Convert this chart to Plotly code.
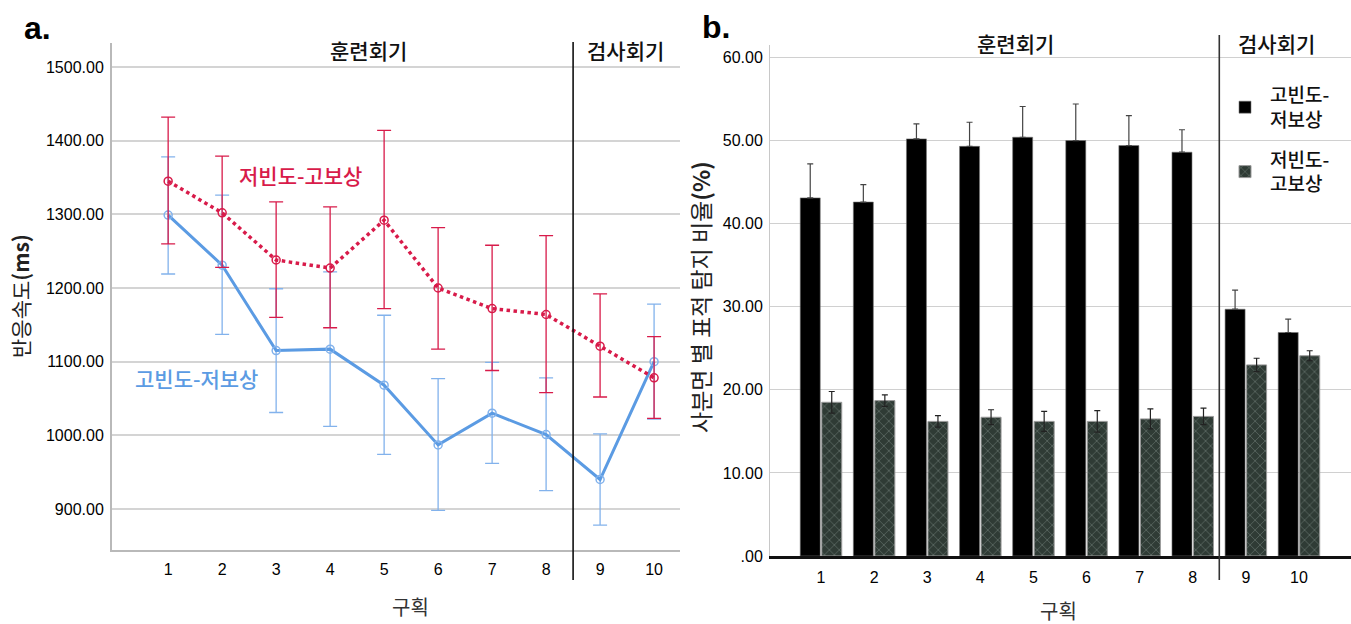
import plotly.graph_objects as go

# ---------------- data ----------------
blocks = list(range(1, 11))
block_labels = [str(b) for b in blocks]

# panel a : reaction time (ms)
rt_lfhr_mean = [1345, 1302, 1238, 1227, 1292, 1200, 1172, 1164, 1121, 1078]
rt_lfhr_upper = [1432, 1379, 1317, 1310, 1414, 1282, 1258, 1271, 1192, 1134]
rt_lfhr_lower = [1260, 1228, 1160, 1146, 1172, 1117, 1088, 1058, 1052, 1023]
rt_hflr_mean = [1299, 1231, 1115, 1117, 1068, 987, 1030, 1001, 940, 1100]
rt_hflr_upper = [1378, 1326, 1199, 1222, 1163, 1077, 1099, 1078, 1002, 1178]
rt_hflr_lower = [1219, 1137, 1031, 1012, 974, 898, 962, 925, 878, 1022]
rt_tickvals = [900, 1000, 1100, 1200, 1300, 1400, 1500]
rt_ticktext = ["900.00", "1000.00", "1100.00", "1200.00", "1300.00", "1400.00", "1500.00"]

# panel b : target detection proportion by quadrant (%)
pct_hflr = [43.1, 42.6, 50.2, 49.3, 50.4, 50.0, 49.4, 48.6, 29.7, 26.9]
pct_hflr_upper = [47.2, 44.7, 52.0, 52.2, 54.1, 54.4, 53.0, 51.3, 32.0, 28.5]
pct_lfhr = [18.5, 18.7, 16.2, 16.7, 16.2, 16.2, 16.5, 16.8, 23.0, 24.1]
pct_lfhr_upper = [19.8, 19.4, 16.9, 17.6, 17.4, 17.5, 17.7, 17.8, 23.8, 24.7]
pct_tickvals = [0, 10, 20, 30, 40, 50, 60]
pct_ticktext = [".00", "10.00", "20.00", "30.00", "40.00", "50.00", "60.00"]

name_hflr = "고빈도-저보상"
name_lfhr = "저빈도-고보상"
phase_train = "훈련회기"
phase_test = "검사회기"

RED = "#d81b4a"
BLUE = "#5b9be3"
BLUE_ERR = "#82b2ec"

FONT = "Liberation Sans, Arial, Noto Sans CJK KR, sans-serif"
KFONT = "Noto Sans CJK KR, Liberation Sans, sans-serif"

fig = go.Figure()

# ---------------- panel a ----------------
fig.add_trace(go.Scatter(
    x=blocks, y=rt_hflr_mean, mode="lines+markers", name=name_hflr,
    line=dict(color=BLUE, width=3),
    marker=dict(symbol="circle-open", size=8, color=BLUE_ERR, line=dict(width=1.5)),
    error_y=dict(type="data", symmetric=False,
                 array=[u - m for u, m in zip(rt_hflr_upper, rt_hflr_mean)],
                 arrayminus=[m - l for m, l in zip(rt_hflr_mean, rt_hflr_lower)],
                 color=BLUE_ERR, thickness=1.3, width=7),
    xaxis="x", yaxis="y", showlegend=False))

fig.add_trace(go.Scatter(
    x=blocks, y=rt_lfhr_mean, mode="lines+markers", name=name_lfhr,
    line=dict(color=RED, width=3.5, dash="dot"),
    marker=dict(symbol="circle-open", size=8, color=RED, line=dict(width=1.5)),
    error_y=dict(type="data", symmetric=False,
                 array=[u - m for u, m in zip(rt_lfhr_upper, rt_lfhr_mean)],
                 arrayminus=[m - l for m, l in zip(rt_lfhr_mean, rt_lfhr_lower)],
                 color=RED, thickness=1.3, width=7),
    xaxis="x", yaxis="y", showlegend=False))

# ---------------- panel b ----------------
fig.add_trace(go.Bar(
    x=blocks, y=pct_hflr, name=name_hflr.replace("-", "-<br>"), legendgroup="g1",
    marker=dict(color="#000000", line=dict(color="#777777", width=0.6)),
    error_y=dict(type="data", symmetric=False,
                 array=[u - m for u, m in zip(pct_hflr_upper, pct_hflr)],
                 arrayminus=[0] * len(pct_hflr),
                 color="#444444", thickness=1.2, width=3),
    xaxis="x2", yaxis="y2"))

fig.add_trace(go.Bar(
    x=blocks, y=pct_lfhr, name=name_lfhr.replace("-", "-<br>"), legendgroup="g2",
    marker=dict(color="#33403a", line=dict(color="#9a9a9a", width=1),
                pattern=dict(shape="x", fgcolor="#7d8b84", bgcolor="#2f3b35",
                             size=7, solidity=0.25)),
    error_y=dict(type="data", array=[u - m for u, m in zip(pct_lfhr_upper, pct_lfhr)],
                 color="#222222", thickness=1.2, width=3),
    xaxis="x2", yaxis="y2"))

W, H = 1351, 624


def px(xp):
    return xp / W


def py(yp):
    return 1 - yp / H


fig.update_layout(
    width=W, height=H, autosize=False,
    margin=dict(l=0, r=0, t=0, b=0, pad=0, autoexpand=False),
    paper_bgcolor="white", plot_bgcolor="white",
    font=dict(family=FONT, color="#111111"),
    barmode="group", bargap=0.19, bargroupgap=0.07,
    xaxis=dict(domain=[px(112), px(680)], range=[-0.04, 10.48], automargin=False,
               tickvals=blocks, ticktext=block_labels,
               tickfont=dict(size=16, color="#000"),
               ticks="outside", ticklen=4, tickcolor="rgba(0,0,0,0)",
               showgrid=False, zeroline=False,
               showline=True, linecolor="#b9b9b9", linewidth=2),
    yaxis=dict(domain=[py(550), py(43)], range=[844.3, 1532.6], automargin=False,
               tickvals=rt_tickvals, ticktext=rt_ticktext,
               tickfont=dict(size=16, color="#000"),
               ticks="outside", ticklen=3, tickcolor="rgba(0,0,0,0)",
               showgrid=True, gridcolor="#d4d4d4", gridwidth=1.5, zeroline=False,
               showline=True, linecolor="#b9b9b9", linewidth=2),
    xaxis2=dict(domain=[px(770), 1.0], range=[0.04, 10.98], automargin=False,
                tickvals=blocks, ticktext=block_labels,
                tickfont=dict(size=16, color="#000"),
                ticks="outside", ticklen=5, tickcolor="rgba(0,0,0,0)",
                showgrid=False, zeroline=False,
                showline=True, linecolor="#111111", linewidth=3, anchor="y2"),
    yaxis2=dict(domain=[py(556), py(45)], range=[0, 61.5], automargin=False,
                tickvals=pct_tickvals, ticktext=pct_ticktext,
                tickfont=dict(size=16, color="#000"),
                ticks="outside", ticklen=3, tickcolor="rgba(0,0,0,0)",
                showgrid=True, gridcolor="#d0d0d0", gridwidth=1.2, zeroline=False,
                showline=True, linecolor="#c8c8c8", linewidth=1, anchor="x2"),
    legend=dict(x=px(1220), y=py(76), xanchor="left", yanchor="top",
                bgcolor="rgba(0,0,0,0)",
                font=dict(family=KFONT, size=19, color="#111", weight=500),
                tracegroupgap=12, itemwidth=40),
)

# phase dividing lines
fig.add_shape(type="line", xref="x", yref="paper", x0=8.5, x1=8.5,
              y0=py(580), y1=py(42), line=dict(color="#111111", width=1.6))
fig.add_shape(type="line", xref="x2", yref="paper", x0=8.5, x1=8.5,
              y0=py(580), y1=py(35), line=dict(color="#333333", width=1.6))

ann = []
# panel letters
ann.append(dict(text="<b>a.</b>", x=px(22), y=py(28), xref="paper", yref="paper",
                xanchor="left", yanchor="middle", showarrow=False,
                font=dict(family=FONT, size=32, color="#000")))
ann.append(dict(text="<b>b.</b>", x=px(700), y=py(27), xref="paper", yref="paper",
                xanchor="left", yanchor="middle", showarrow=False,
                font=dict(family=FONT, size=32, color="#000")))
# phase labels
for txt, xc, yc in [(phase_train, 368, 50), (phase_test, 625, 50),
                    (phase_train, 1015, 43), (phase_test, 1276, 43)]:
    ann.append(dict(text=txt, x=px(xc), y=py(yc), xref="paper", yref="paper",
                    xanchor="center", yanchor="middle", showarrow=False,
                    font=dict(family=KFONT, size=21, color="#111", weight=500)))
# series labels (panel a)
ann.append(dict(text=name_lfhr, x=px(300), y=py(175), xref="paper", yref="paper",
                xanchor="center", yanchor="middle", showarrow=False,
                font=dict(family=KFONT, size=21, color=RED, weight=500)))
ann.append(dict(text=name_hflr, x=px(197), y=py(378), xref="paper", yref="paper",
                xanchor="center", yanchor="middle", showarrow=False,
                font=dict(family=KFONT, size=21, color=BLUE, weight=500)))
# axis titles
ann.append(dict(text="구획", x=px(410), y=py(606), xref="paper", yref="paper",
                xanchor="center", yanchor="middle", showarrow=False,
                font=dict(family=KFONT, size=20, color="#333")))
ann.append(dict(text="구획", x=px(1058), y=py(610), xref="paper", yref="paper",
                xanchor="center", yanchor="middle", showarrow=False,
                font=dict(family=KFONT, size=20, color="#333")))
ann.append(dict(text="반응속도<b>(ms)</b>", x=px(20), y=py(296), xref="paper", yref="paper",
                xanchor="center", yanchor="middle", showarrow=False, textangle=-90,
                font=dict(family=KFONT, size=21, color="#222")))
ann.append(dict(text="사분면 별 표적 탐지 비율<b>(%)</b>", x=px(700), y=py(297),
                xref="paper", yref="paper",
                xanchor="center", yanchor="middle", showarrow=False, textangle=-90,
                font=dict(family=KFONT, size=23, color="#222")))
fig.update_layout(annotations=ann)

fig.write_html("out.html", config={"displayModeBar": False},
               post_script="document.body.style.margin='0';document.body.style.overflow='hidden';")
